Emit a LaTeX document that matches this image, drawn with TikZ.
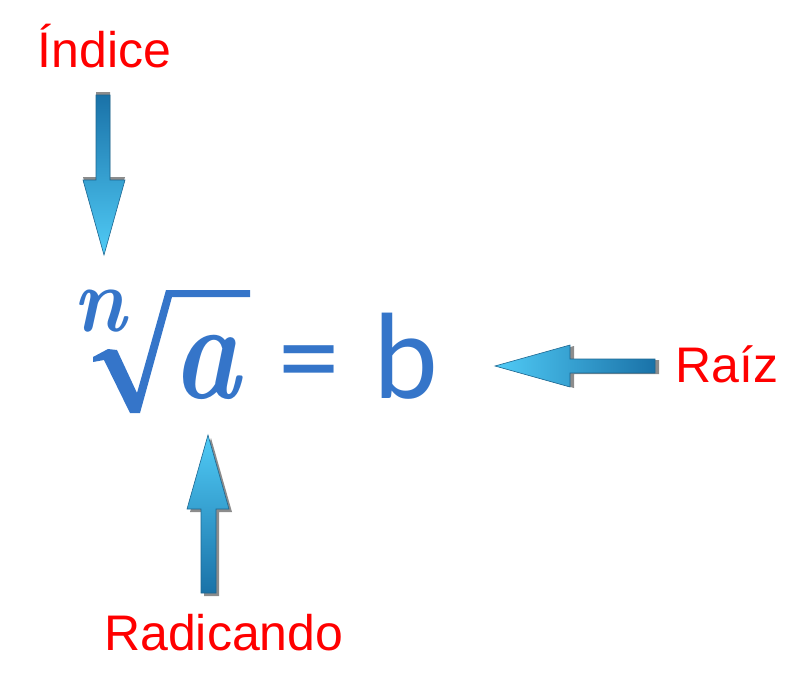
\documentclass[tikz,border=0pt]{standalone}
\usepackage{fontspec}
\setmainfont{Latin Modern Roman}
\newfontfamily\labelfont{Liberation Sans}
\newfontfamily\formfont{Carlito}
\definecolor{labelred}{HTML}{FF0000}
\definecolor{formblue}{HTML}{3575C9}
\definecolor{arrdark}{HTML}{1A72A8}
\definecolor{arrlight}{HTML}{50CBF6}
\definecolor{arredge}{HTML}{1D6690}
\definecolor{shadowgray}{HTML}{8C8C8C}
\tikzset{
  lbl/.style={text=labelred, font=\labelfont\fontsize{50}{50}\selectfont, inner sep=0pt, anchor=base west},
  formtxt/.style={text=formblue, inner sep=0pt, anchor=base west},
  arrshadow/.style={fill=shadowgray},
  arrbody/.style={draw=arredge, line width=0.6pt, line join=miter},
}
\begin{document}
\begin{tikzpicture}[x=1pt,y=-1pt]
\useasboundingbox (0,0) rectangle (806,683);
% labels
\node[lbl] (indice) at (37.5,67) {Índice};
\node[lbl] (raiz) at (675,382) {Raíz};
\node[lbl] (radicando) at (104,650) {Radicando};
% formula
\node[formtxt, font=\bfseries\itshape\fontsize{92}{92}\selectfont, xscale=0.88] (n) at (73,331) {n};
\fill[formblue] (93,362) -- (93,357) -- (108,349) -- (117,350) -- (137,393) -- (166,290) -- (250,290) -- (250,297) -- (172,297) -- (140,413) -- (130,413) -- (104,360) -- cycle;
\node[formtxt, font=\bfseries\itshape\fontsize{140}{140}\selectfont, xscale=0.82] (a) at (172,398) {a};
\node[formtxt, font=\formfont\fontsize{123}{123}\selectfont] (eq) at (278,398) {=};
\node[formtxt, font=\formfont\fontsize{123}{123}\selectfont] (b) at (373,398) {b};
% down arrow (Indice)
\fill[arrshadow, shift={(0,-3)}] (96,95) -- (110,95) -- (110,180) -- (125,180) -- (104,255) -- (83,180) -- (96,180) -- cycle;
\shade[arrbody, top color=arrdark, bottom color=arrlight] (96,95) -- (110,95) -- (110,180) -- (125,180) -- (104,255) -- (83,180) -- (96,180) -- cycle;
% left arrow (Raiz)
\fill[arrshadow, shift={(4,1)}] (655,359) -- (655,373) -- (570,373) -- (570,387) -- (495,366) -- (570,345) -- (570,359) -- cycle;
\shade[arrbody, left color=arrlight, right color=arrdark] (655,359) -- (655,373) -- (570,373) -- (570,387) -- (495,366) -- (570,345) -- (570,359) -- cycle;
% up arrow (Radicando)
\fill[arrshadow, shift={(3,3)}] (201,593) -- (216,593) -- (216,509) -- (229,509) -- (208,435) -- (187,509) -- (201,509) -- cycle;
\shade[arrbody, top color=arrlight, bottom color=arrdark] (201,593) -- (216,593) -- (216,509) -- (229,509) -- (208,435) -- (187,509) -- (201,509) -- cycle;
\end{tikzpicture}
\end{document}
